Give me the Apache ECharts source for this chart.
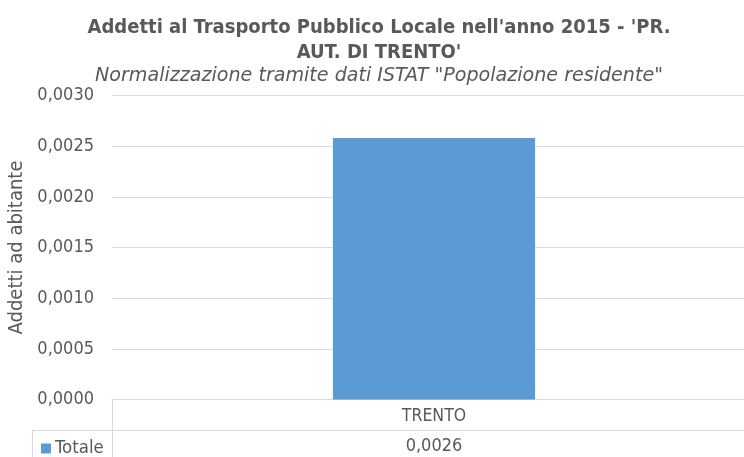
<!DOCTYPE html>
<html>
<head>
<meta charset="utf-8">
<script src="https://cdn.jsdelivr.net/npm/echarts@6/dist/echarts.min.js"></script>
<style>
  html, body { margin: 0; padding: 0; background: #fff; }
  #chart { width: 744px; height: 457px; }
</style>
</head>
<body>
<div id="chart"></div>
<script>
const categories = ['TRENTO'];
const totale = [0.00258];
const tableValues = ['0,0026'];
const yTicks = { min: 0, max: 0.003, interval: 0.0005 };

const font = '"Liberation Sans Narrow", "DejaVu Sans Condensed", "Liberation Sans", sans-serif';
const textColor = '#595959';
const lineColor = '#d9d9d9';

const chart = echarts.init(document.getElementById('chart'));
const option = {
  animation: false,
  textStyle: { fontFamily: font, color: textColor },
  title: {
    text: "Addetti al Trasporto Pubblico Locale nell'anno 2015 - 'PR.\nAUT. DI TRENTO'",
    subtext: 'Normalizzazione tramite dati ISTAT "Popolazione residente"',
    left: 374,
    top: 11,
    textAlign: 'center',
    itemGap: 0,
    textStyle: { fontFamily: font, fontSize: 20, fontWeight: 'bold', color: textColor, lineHeight: 24.5 },
    subtextStyle: { fontFamily: '"DejaVu Sans", sans-serif', fontSize: 19.1, fontStyle: 'italic', color: textColor, lineHeight: 22 }
  },
  legend: {
    left: 36,
    top: 434,
    itemWidth: 10,
    itemHeight: 10,
    itemGap: 4,
    icon: 'rect',
    data: ['Totale'],
    textStyle: { fontFamily: font, fontSize: 18.5, color: textColor, padding: [0, 0, 0, -1] }
  },
  grid: { left: 112, top: 95.5, width: 644, height: 304, containLabel: false, outerBoundsMode: 'none' },
  xAxis: {
    type: 'category',
    data: categories,
    axisLine: { lineStyle: { color: lineColor, width: 1 } },
    axisTick: { show: false },
    axisLabel: {
      margin: 2,
      formatter: (v, i) => `{c|${v}}\n{v|${tableValues[i]}}`,
      rich: {
        c: { fontFamily: font, fontSize: 17.5, color: textColor, lineHeight: 30, align: 'center' },
        v: { fontFamily: font, fontSize: 18, color: textColor, lineHeight: 30, align: 'center' }
      }
    }
  },
  yAxis: {
    type: 'value',
    min: yTicks.min,
    max: yTicks.max,
    interval: yTicks.interval,
    name: 'Addetti ad abitante',
    nameLocation: 'middle',
    nameRotate: 90,
    nameGap: 80,
    nameTextStyle: { fontFamily: font, fontSize: 20, color: textColor },
    axisLine: { show: false },
    axisTick: { show: false },
    axisLabel: {
      margin: 18,
      fontFamily: font,
      fontSize: 18,
      color: textColor,
      formatter: v => v.toFixed(4).replace('.', ',')
    },
    splitLine: { lineStyle: { color: lineColor, width: 1 } }
  },
  series: [{
    name: 'Totale',
    type: 'bar',
    data: totale,
    barWidth: '31.4%',
    itemStyle: { color: '#5b9bd5' }
  }],
  graphic: [
    { type: 'line', shape: { x1: 112.5, y1: 399, x2: 112.5, y2: 457 }, style: { stroke: lineColor, lineWidth: 1 } },
    { type: 'line', shape: { x1: 32, y1: 430.5, x2: 744, y2: 430.5 }, style: { stroke: lineColor, lineWidth: 1 } },
    { type: 'line', shape: { x1: 32.5, y1: 430, x2: 32.5, y2: 457 }, style: { stroke: lineColor, lineWidth: 1 } }
  ]
};
chart.setOption(option);
</script>
</body>
</html>
